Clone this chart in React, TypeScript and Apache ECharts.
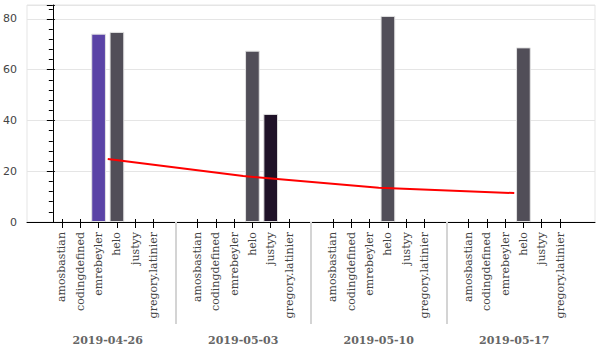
import React, { useEffect, useRef } from "react";
import * as echarts from "echarts";

const dates = ["2019-04-26", "2019-05-03", "2019-05-10", "2019-05-17"];
const users = ["amosbastian", "codingdefined", "emrebeyler", "helo", "justyy", "gregory.latinier"];
// values per date, in the order of users
const v20190426 = [0, 0, 74.2, 74.9, 0, 0];
const v20190503 = [0, 0, 0, 67.5, 42.6, 0];
const v20190510 = [0, 0, 0, 81.2, 0, 0];
const v20190517 = [0, 0, 0, 68.8, 0, 0];
const trend = [24.8, 18.1, 13.5, 11.4];
const yTicks = [0, 20, 40, 60, 80];

const userColors: Record<string, string> = {
  amosbastian: "#3b0f6f",
  codingdefined: "#8c2980",
  emrebeyler: "#5a43a6",
  helo: "#514e58",
  justyy: "#1f1228",
  "gregory.latinier": "#fd9f6c",
};

const values = [v20190426, v20190503, v20190510, v20190517];

const GROUP_PAD = 1.4;
const N = users.length;
const STEP = N + GROUP_PAD;
const TOTAL = dates.length * N + (dates.length - 1) * GROUP_PAD;
const PAD = (TOTAL * 0.1) / 2;
const X_MIN = -PAD;
const X_MAX = TOTAL + PAD;

const factorPos = (g: number, i: number) => g * STEP + i + 0.5;
const groupCenter = (g: number) => g * STEP + N / 2;
const sepPos = (g: number) => g * STEP + N + GROUP_PAD / 2;

const factorList: { x: number; user: string }[] = [];
dates.forEach((_, g) => users.forEach((u, i) => factorList.push({ x: factorPos(g, i), user: u })));
const factorXs = factorList.map((f) => f.x);
const groupXs = dates.map((_, g) => groupCenter(g));
const sepXs = dates.slice(0, -1).map((_, g) => sepPos(g));

const nearest = (arr: number[], v: number) => {
  let best = 0;
  arr.forEach((a, i) => {
    if (Math.abs(a - v) < Math.abs(arr[best] - v)) best = i;
  });
  return best;
};

export default function App() {
  const ref = useRef<HTMLDivElement>(null);
  useEffect(() => {
    if (!ref.current) return;
    const chart = echarts.init(ref.current, undefined, { renderer: "svg" });
    const barData: any[] = [];
    values.forEach((arr, g) =>
      arr.forEach((v, i) => {
        if (v > 0)
          barData.push({
            value: [factorPos(g, i), v],
            itemStyle: { color: userColors[users[i]] },
          });
      })
    );
    const xCommon = { type: "value", min: X_MIN, max: X_MAX, position: "bottom", splitLine: { show: false } };
    chart.setOption({
      animation: false,
      backgroundColor: "#ffffff",
      grid: {
        left: 26,
        right: 5,
        top: 5,
        bottom: 128,
        show: true,
        borderColor: "#e5e5e5",
        borderWidth: 1,
        containLabel: false,
      },
      xAxis: [
        {
          ...xCommon,
          axisLine: { show: true, lineStyle: { color: "#000", width: 1 } },
          axisTick: { show: true, customValues: factorXs, length: 6, lineStyle: { color: "#000" } },
          axisLabel: {
            show: true,
            customValues: factorXs,
            rotate: 90,
            margin: 10,
            color: "#444",
            fontFamily: "DejaVu Serif",
            fontSize: 11,
            formatter: (val: number) => factorList[nearest(factorXs, val)].user,
          },
        },
        {
          ...xCommon,
          offset: 13,
          axisLine: { show: false },
          axisTick: { show: true, customValues: sepXs, length: 102, lineStyle: { color: "#d4d4d4", width: 2 } },
          axisLabel: {
            show: true,
            customValues: groupXs,
            margin: 100,
            color: "#666",
            fontFamily: "DejaVu Serif",
            fontWeight: "bold",
            fontSize: 11,
            formatter: (val: number) => dates[nearest(groupXs, val)],
          },
        },
        {
          ...xCommon,
          axisLine: { show: false },
          axisTick: { show: true, inside: true, customValues: factorXs, length: 3, lineStyle: { color: "#000" } },
          axisLabel: { show: false },
        },
      ],
      yAxis: [
        {
          type: "value",
          position: "left",
          min: 0,
          max: 85.5,
          interval: 20,
          axisLine: { show: true, lineStyle: { color: "#000", width: 1 } },
          axisTick: { show: true, length: 6, lineStyle: { color: "#000" } },
          minorTick: { show: true, splitNumber: 5, length: 4, lineStyle: { color: "#000" } },
          axisLabel: {
            show: true,
            customValues: yTicks,
            margin: 10,
            color: "#444",
            fontFamily: "DejaVu Sans",
            fontSize: 11,
          },
          splitLine: { show: true, lineStyle: { color: "#e5e5e5", width: 1 } },
        },
        {
          type: "value",
          position: "left",
          min: 0,
          max: 85.5,
          interval: 20,
          axisLine: { show: false },
          axisTick: { show: true, inside: true, length: 2, lineStyle: { color: "#000" } },
          axisLabel: { show: false },
          splitLine: { show: false },
        },
      ],
      series: [
        {
          type: "bar",
          xAxisIndex: 0,
          yAxisIndex: 0,
          barWidth: 14.7,
          data: barData,
          itemStyle: { borderColor: "#e2e2e2", borderWidth: 1 },
        },
        {
          type: "line",
          xAxisIndex: 0,
          yAxisIndex: 0,
          data: trend.map((v, g) => [groupCenter(g), v]),
          symbol: "none",
          lineStyle: { color: "#ff0000", width: 2 },
          itemStyle: { color: "#ff0000" },
          z: 5,
        },
      ],
    });
    return () => chart.dispose();
  }, []);
  return <div ref={ref} style={{ position: "fixed", left: 0, top: 0, width: 600, height: 350 }} />;
}
